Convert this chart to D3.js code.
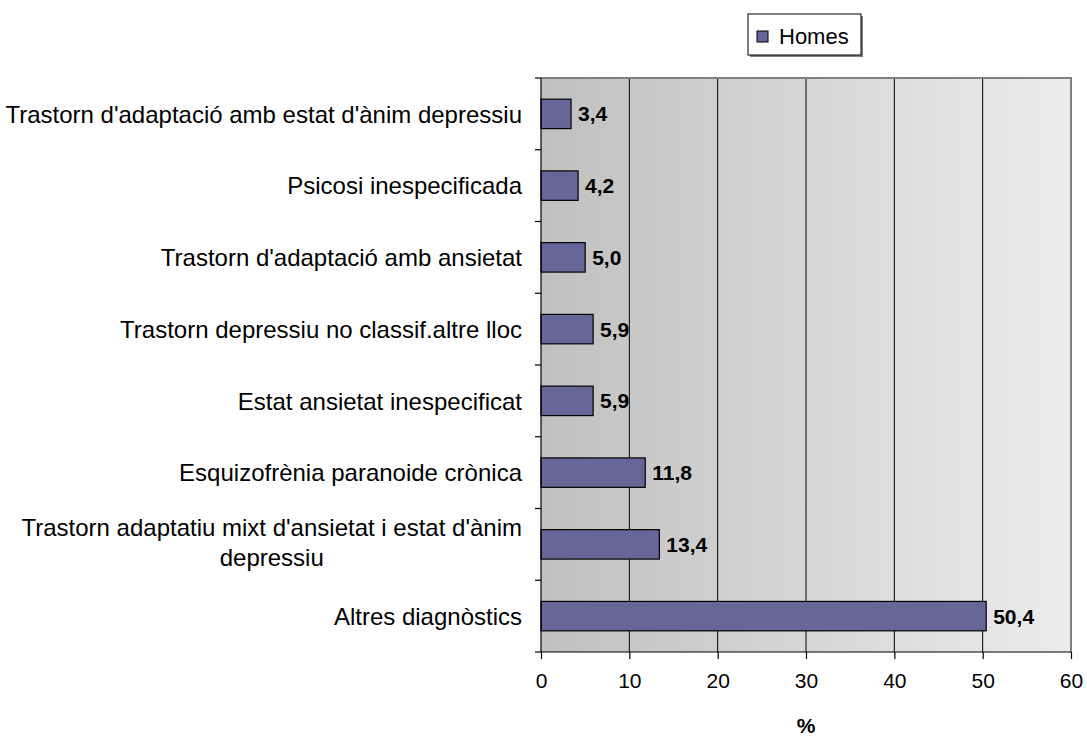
<!DOCTYPE html>
<html>
<head>
<meta charset="utf-8">
<script src="https://cdn.jsdelivr.net/npm/d3@7"></script>
<style>
    body { margin: 0; background: #fff; }
    svg text { font-family: "Liberation Sans", Arial, sans-serif; fill: #000; }
</style>
</head>
<body>
<svg id="chart" width="1087" height="736"></svg>
<script>
// categories, top to bottom
var categories = [
    "Trastorn d'adaptació amb estat d'ànim depressiu",
    "Psicosi inespecificada",
    "Trastorn d'adaptació amb ansietat",
    "Trastorn depressiu no classif.altre lloc",
    "Estat ansietat inespecificat",
    "Esquizofrènia paranoide crònica",
    "Trastorn adaptatiu mixt d'ansietat i estat d'ànim depressiu",
    "Altres diagnòstics"
];
var homes = [3.4, 4.2, 5.0, 5.9, 5.9, 11.8, 13.4, 50.4];
var xTicks = [0, 10, 20, 30, 40, 50, 60];
var seriesName = "Homes";
var axisTitle = "%";

var margin = {top: 78, right: 16, bottom: 84, left: 541},
    width = 1087 - margin.left - margin.right,
    height = 736 - margin.top - margin.bottom;

var svg = d3.select("#chart"),
    g = svg.append("g")
        .attr("transform", "translate(" + margin.left + "," + margin.top + ")");

var x = d3.scaleLinear().domain([0, 60]).range([0, width]);
var y = d3.scaleBand().domain(categories).range([0, height]).paddingInner(0.59).paddingOuter(0.295);
var band = d3.scaleBand().domain(categories).range([0, height]);

// background gradient
var grad = svg.append("defs").append("linearGradient")
    .attr("id", "bg").attr("x1", "0%").attr("x2", "100%").attr("y1", "0%").attr("y2", "0%");
grad.append("stop").attr("offset", "0%").attr("stop-color", "#c0c0c0");
grad.append("stop").attr("offset", "100%").attr("stop-color", "#ececec");

g.append("rect")
    .attr("width", width).attr("height", height)
    .attr("fill", "url(#bg)");

// vertical gridlines
g.selectAll(".grid")
    .data(xTicks.slice(1, -1))
    .enter().append("line")
    .attr("x1", function(d) { return x(d); })
    .attr("x2", function(d) { return x(d); })
    .attr("y1", 0).attr("y2", height)
    .attr("stroke", "#000").attr("stroke-width", 1);

// plot frame, top and right
g.append("path")
    .attr("d", "M0,0H" + width + "V" + height)
    .attr("fill", "none").attr("stroke", "#808080").attr("stroke-width", 2);

// bars
g.selectAll(".bar")
    .data(homes)
    .enter().append("rect")
    .attr("x", x(0))
    .attr("y", function(d, i) { return y(categories[i]); })
    .attr("width", function(d) { return x(d) - x(0); })
    .attr("height", y.bandwidth())
    .attr("fill", "#666699")
    .attr("stroke", "#000").attr("stroke-width", 1.2);

// value labels
g.selectAll(".val")
    .data(homes)
    .enter().append("text")
    .attr("x", function(d) { return x(d) + 7; })
    .attr("y", function(d, i) { return y(categories[i]) + y.bandwidth() / 2; })
    .attr("dy", "0.36em")
    .style("font-size", "21px").style("font-weight", "bold")
    .text(function(d) { return d3.format(".1f")(d).replace(".", ","); });

// x axis
var xAxis = g.append("g")
    .attr("transform", "translate(0," + height + ")")
    .call(d3.axisBottom(x).tickValues(xTicks).tickSize(7).tickPadding(14));
xAxis.selectAll("text").style("font-size", "21px").attr("fill", "#000");
xAxis.selectAll("line, path").attr("stroke", "#000").attr("stroke-width", 1.2);
xAxis.select(".domain").attr("d", "M0,0H" + width);

// y axis: line with ticks between categories
g.append("line")
    .attr("x1", 0).attr("x2", 0).attr("y1", 0).attr("y2", height)
    .attr("stroke", "#000").attr("stroke-width", 1.2);
g.selectAll(".ytick")
    .data(d3.range(categories.length + 1))
    .enter().append("line")
    .attr("x1", -6).attr("x2", 0)
    .attr("y1", function(i) { return i * band.step(); })
    .attr("y2", function(i) { return i * band.step(); })
    .attr("stroke", "#000").attr("stroke-width", 1.2);

// category labels, wrapped and centred when too long
var maxW = 530, lineH = 30;
categories.forEach(function(c, i) {
    var t = g.append("text")
        .style("font-size", "24px")
        .attr("text-anchor", "end")
        .attr("x", -19);
    var words = c.split(" "), lines = [], cur = [];
    words.forEach(function(w) {
        cur.push(w);
        t.text(cur.join(" "));
        if (t.node().getComputedTextLength() > maxW && cur.length > 1) {
            cur.pop();
            lines.push(cur.join(" "));
            cur = [w];
        }
    });
    lines.push(cur.join(" "));
    var cy = band(c) + band.bandwidth() / 2;
    if (lines.length == 1) {
        t.attr("y", cy).attr("dy", "0.36em").text(lines[0]);
    } else {
        t.text(lines[0]);
        var w0 = t.node().getComputedTextLength();
        t.text(null).attr("text-anchor", "middle");
        lines.forEach(function(l, k) {
            t.append("tspan")
                .attr("x", -19 - w0 / 2)
                .attr("y", cy - 2 + (k - (lines.length - 1) / 2) * lineH)
                .attr("dy", "0.36em")
                .text(l);
        });
    }
});

// axis title
svg.append("text")
    .attr("x", margin.left + width / 2)
    .attr("y", 725)
    .attr("dy", "0.36em")
    .attr("text-anchor", "middle")
    .style("font-size", "21px").style("font-weight", "bold")
    .text(axisTitle);

// legend
var lg = svg.append("g").attr("transform", "translate(748,14)");
lg.append("rect").attr("x", 2).attr("y", 2).attr("width", 113).attr("height", 41).attr("fill", "#808080");
lg.append("rect").attr("width", 113).attr("height", 41)
    .attr("fill", "#fff").attr("stroke", "#000").attr("stroke-width", 1);
lg.append("rect").attr("x", 9).attr("y", 17).attr("width", 11).attr("height", 11)
    .attr("fill", "#666699").attr("stroke", "#000").attr("stroke-width", 1);
lg.append("text").attr("x", 31).attr("y", 22).attr("dy", "0.36em")
    .style("font-size", "22px").text(seriesName);
</script>
</body>
</html>
